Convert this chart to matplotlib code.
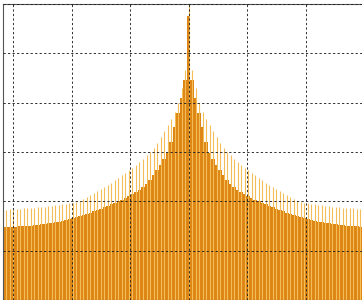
import numpy as np
import matplotlib.pyplot as plt

# heights, centre bar first, going outwards
body_half = [5.75, 4.45, 4.10, 3.80, 3.50, 3.20, 2.98, 2.85, 2.74, 2.63,
             2.53, 2.44, 2.36, 2.29, 2.23, 2.18, 2.14, 2.10, 2.06, 2.03,
             2.00, 1.97, 1.94, 1.91, 1.88, 1.85, 1.82, 1.80, 1.77, 1.75,
             1.72, 1.70, 1.68, 1.66, 1.64, 1.62, 1.61, 1.59, 1.58, 1.57,
             1.56, 1.55, 1.54, 1.53, 1.52, 1.51, 1.50, 1.50, 1.49, 1.48,
             1.48, 1.47, 1.47, 1.46]
spike_half = [6.00, 4.66, 4.30, 4.00, 3.82, 3.67, 3.54, 3.42, 3.30, 3.19,
              3.09, 3.00, 2.93, 2.86, 2.80, 2.74, 2.68, 2.63, 2.58, 2.53,
              2.48, 2.43, 2.38, 2.33, 2.29, 2.24, 2.20, 2.16, 2.12, 2.08,
              2.04, 2.00, 1.98, 1.97, 1.96, 1.95, 1.94, 1.93, 1.92, 1.91,
              1.90, 1.89, 1.88, 1.88, 1.87, 1.87, 1.86, 1.86, 1.85, 1.85,
              1.84, 1.84, 1.83, 1.83]

# mirror to both sides of the peak
body = body_half[:0:-1] + body_half
spike = spike_half[:0:-1] + spike_half

step = 0.06
x = (np.arange(len(body)) - (len(body) - 1) / 2) * step

fig = plt.figure(figsize=(3.62, 3.0), dpi=100)
# the frame runs past the right and bottom edge of the picture
ax = fig.add_axes([2.7 / 362, 0, 371.8 / 362, 296 / 300])

ax.bar(x, body, width=step, color='#dc8514', linewidth=0)
ax.vlines(x, 0, spike, color='#f4bd58', lw=0.8)

ax.set_xlim(-3.18, 3.18)
ax.set_ylim(0, 6)
ax.set_xticks(range(-3, 4))
ax.set_yticks(range(0, 7))
ax.grid(True, color='#222222', ls=(0, (2.5, 2.5)), lw=0.65)
ax.set_axisbelow(False)
ax.tick_params(length=0, labelleft=False, labelbottom=False)
for s in ax.spines.values():
    s.set_color('#555555')
    s.set_linewidth(0.8)

fig.savefig('out.png', dpi=100)
